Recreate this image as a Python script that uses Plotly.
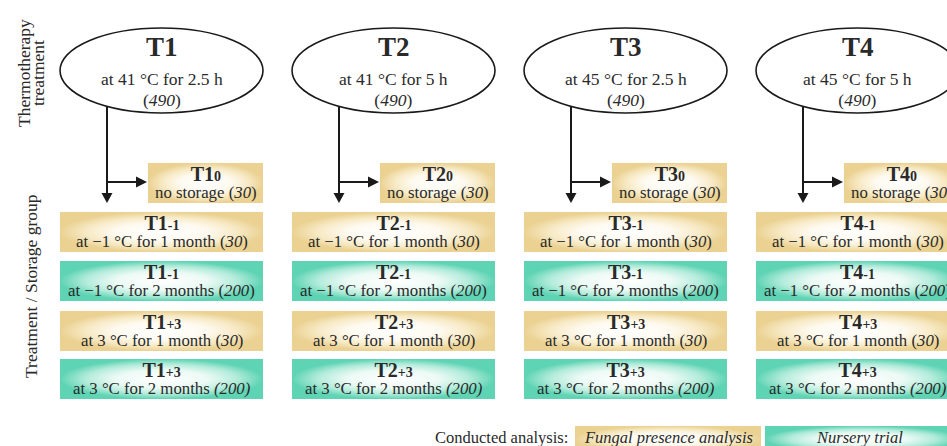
import plotly.graph_objects as go

# ---- content ----
treatments = ["T1", "T2", "T3", "T4"]
therm_temp = ["41", "41", "45", "45"]
therm_time = ["2.5 h", "5 h", "2.5 h", "5 h"]
therm_n = [490, 490, 490, 490]

storage_codes = ["0", "-1", "-1", "+3", "+3"]
storage_desc = ["no storage", "at \u22121 \u00b0C for 1 month", "at \u22121 \u00b0C for 2 months",
                "at 3 \u00b0C for 1 month", "at 3 \u00b0C for 2 months"]
storage_n = [30, 30, 200, 30, 200]
storage_paren_italic = [False, False, False, False, True]
storage_analysis = ["fungal", "fungal", "nursery", "fungal", "nursery"]

legend_labels = ["Fungal presence analysis", "Nursery trial"]
legend_kinds = ["fungal", "nursery"]

# ---- styling / layout constants ----
W, H = 947, 446
FONT = "Palatino Linotype, Book Antiqua, Liberation Serif, serif"
TXT = "#2a2a2a"
SCALES = {
    "fungal": [[0, "#ffffff"], [0.45, "#fefaf0"], [0.75, "#f7e9c4"], [1, "#ebd293"]],
    "nursery": [[0, "#ffffff"], [0.45, "#ecfaf5"], [0.75, "#b2ebda"], [1, "#5fd4b4"]],
}
col_left0, col_step, col_w = 60, 232, 203
ell_top, ell_bot = 28, 113
vline_dx = 47
box0_dx, box0_top, box0_bot = 88, 163, 203
row_tops = [212, 261, 311, 359]
row_h = 40
arrow_y = 182

fig = go.Figure()
shapes = []
ann = []


def add_box(x0, x1, y0, y1, kind):
    fig.add_trace(go.Scatter(
        x=[x0, x1, x1, x0, x0], y=[y0, y0, y1, y1, y0],
        mode="lines", line=dict(width=0), fill="toself",
        fillgradient=dict(type="radial", colorscale=SCALES[kind]),
        hoverinfo="skip", showlegend=False))


def add_text(x, y, text, size, **kw):
    ann.append(dict(x=x, y=y, xref="x", yref="y", text=text, showarrow=False,
                    font=dict(family=FONT, size=size, color=TXT), **kw))


for c, t in enumerate(treatments):
    L = col_left0 + c * col_step
    cx = L + col_w / 2
    vx = L + vline_dx
    shapes.append(dict(type="line", x0=vx, x1=vx, y0=(ell_top + ell_bot) / 2, y1=box0_bot - 10,
                       line=dict(color="#1a1a1a", width=2), layer="below"))
    shapes.append(dict(type="path", path=f"M {vx-5.5} {box0_bot-10} L {vx+5.5} {box0_bot-10} L {vx} {box0_bot} Z",
                       fillcolor="#1a1a1a", line=dict(width=0)))
    shapes.append(dict(type="line", x0=vx, x1=L + box0_dx - 12, y0=arrow_y, y1=arrow_y,
                       line=dict(color="#1a1a1a", width=2)))
    shapes.append(dict(type="path",
                       path=f"M {L+box0_dx-12} {arrow_y-5.5} L {L+box0_dx-12} {arrow_y+5.5} L {L+box0_dx-1} {arrow_y} Z",
                       fillcolor="#1a1a1a", line=dict(width=0)))
    shapes.append(dict(type="circle", x0=L, x1=L + col_w, y0=ell_top, y1=ell_bot,
                       fillcolor="white", line=dict(color="#1a1a1a", width=1.6), layer="above"))
    add_text(cx, 47, f"<b>{t}</b>", 27)
    add_text(cx, 89.5, f"<span style='font-size:17.5px'>at {therm_temp[c]} \u00b0C for {therm_time[c]}"
                       f"<br>(<i>{therm_n[c]}</i>)</span>", 16)

    for r in range(5):
        if r == 0:
            x0, x1, y0, y1 = L + box0_dx, L + col_w, box0_top, box0_bot
        else:
            x0, x1 = L, L + col_w
            y0 = row_tops[r - 1]
            y1 = y0 + row_h
        add_box(x0, x1, y0, y1, storage_analysis[r])
        xc = (x0 + x1) / 2
        n = f"<i>({storage_n[r]})</i>" if storage_paren_italic[r] else f"(<i>{storage_n[r]}</i>)"
        add_text(xc, (y0 + y1) / 2 - 0.5,
                 f"<span style='font-size:20px'><b>{t}<span style='font-size:14px'>{storage_codes[r]}</span></b></span>"
                 f"<br><span style='font-size:16.8px'>{storage_desc[r]} {n}</span>", 13.2)

# side labels
add_text(31, 73, "<span style='font-size:17.5px'>Thermotherapy<br>treatment</span>", 11, textangle=-90)
add_text(31, 286, "Treatment / Storage group", 17.5, textangle=-90)

# legend
leg_x = [(575, 761), (765, 960)]
add_text(570, 437, "Conducted analysis:", 16.5, xanchor="right")
for (x0, x1), lab, kind in zip(leg_x, legend_labels, legend_kinds):
    add_box(x0, x1, 426, 452, kind)
    add_text(668 if kind == "fungal" else 859, 437, f"<i>{lab}</i>", 16.5)

fig.update_layout(
    width=W, height=H, margin=dict(l=0, r=0, t=0, b=0),
    paper_bgcolor="white", plot_bgcolor="white",
    xaxis=dict(range=[0, W], visible=False, fixedrange=True),
    yaxis=dict(range=[H, 0], visible=False, fixedrange=True),
    shapes=shapes, annotations=ann, showlegend=False,
)
fig.write_html("out.html", config={"displayModeBar": False},
               post_script="document.body.style.margin='0px';document.body.style.overflow='hidden';")
